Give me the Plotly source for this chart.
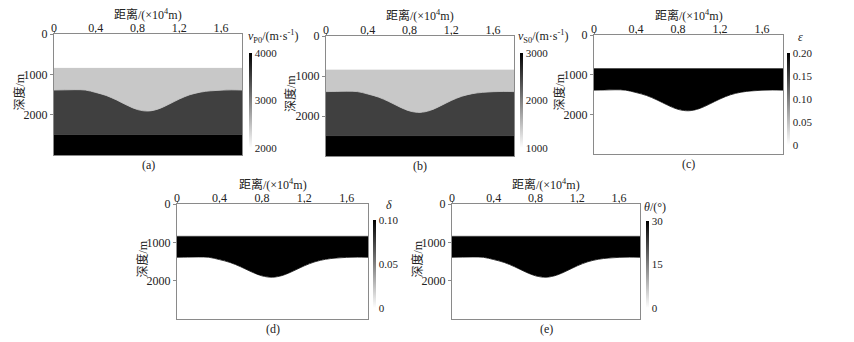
import plotly.graph_objects as go
from plotly.colors import sample_colorscale

# page body has an 8px default margin, so the figure is drawn 8px in from the window corner
OFF = 8
W, H = 854 - OFF, 342 - OFF

# ---------------- data ----------------
x_pos = [0.0, 0.1, 0.2, 0.3, 0.4, 0.5, 0.6, 0.7, 0.8, 0.9,
         1.0, 1.1, 1.2, 1.3, 1.4, 1.5, 1.6, 1.7, 1.8]          # distance (x10^4 m)
interface_depth = [1390, 1385, 1380, 1390, 1450, 1525, 1637, 1767, 1874, 1910,
                   1858, 1742, 1612, 1507, 1442, 1409, 1392, 1385, 1390]  # curved interface (m)
top_layer_depth = 830
base_layer_depth = 2490
max_depth = 3000

vp0 = [2000, 2430, 3500, 4000]
vs0 = [1000, 1430, 2500, 3000]
epsilon = [0, 0.20, 0, 0]
delta = [0, 0.10, 0, 0]
theta = [0, 30, 0, 0]

x_ticks = [0, 0.4, 0.8, 1.2, 1.6]
x_ticktext = ["0", "0.4", "0.8", "1.2", "1.6"]
y_ticks = [0, 1000, 2000]
y_ticktext = ["0", "1000", "2000"]

FONT = "Liberation Serif, Noto Sans CJK SC, serif"
TXT = "#222222"
AX = "#8a8a8a"
cs = [[0, "rgb(255,255,255)"], [1, "rgb(0,0,0)"]]

panels = [
    dict(vals=vp0, cmin=2000, cmax=4000, cbt=[2000, 3000, 4000], cbtt=["2000", "3000", "4000"],
         title="<i>v</i><sub>P0</sub>/(m·s<sup>-1</sup>)", tx=246, ty=37, cap="(a)",
         box=(54, 242, 34, 155), cb=(249, 53, 95)),
    dict(vals=vs0, cmin=1000, cmax=3000, cbt=[1000, 2000, 3000], cbtt=["1000", "2000", "3000"],
         title="<i>v</i><sub>S0</sub>/(m·s<sup>-1</sup>)", tx=516, ty=37, cap="(b)",
         box=(326, 514, 36, 156), cb=(520, 53, 95)),
    dict(vals=epsilon, cmin=0, cmax=0.2, cbt=[0, 0.05, 0.1, 0.15, 0.2],
         cbtt=["0", "0.05", "0.10", "0.15", "0.20"],
         title="<i>ε</i>", tx=796, ty=37, cap="(c)",
         box=(594, 783, 35, 154), cb=(787, 53, 92)),
    dict(vals=delta, cmin=0, cmax=0.1, cbt=[0, 0.05, 0.1], cbtt=["0", "0.05", "0.10"],
         title="<i>δ</i>", tx=384, ty=205, cap="(d)",
         box=(177, 368, 204, 319), cb=(373, 220, 88)),
    dict(vals=theta, cmin=0, cmax=30, cbt=[0, 15, 30], cbtt=["0", "15", "30"],
         title="<i>θ</i>/(°)", tx=642, ty=207, cap="(e)",
         box=(452, 640, 204, 319), cb=(646, 221, 87)),
]


def px(x):
    return (x - OFF) / W


def py(y):
    return 1 - (y - OFF) / H


fig = go.Figure()
n = len(x_pos)
annotations = []
layout_axes = {}

for i, p in enumerate(panels, start=1):
    xa = "x" if i == 1 else f"x{i}"
    ya = "y" if i == 1 else f"y{i}"
    colors = [sample_colorscale(cs, (v - p["cmin"]) / (p["cmax"] - p["cmin"]))[0] for v in p["vals"]]
    bounds = [[0] * n, [top_layer_depth] * n, interface_depth, [base_layer_depth] * n, [max_depth] * n]
    for k, yb in enumerate(bounds):
        tr = dict(x=x_pos, y=yb, mode="lines", xaxis=xa, yaxis=ya, showlegend=False,
                  hoverinfo="skip")
        if k == 0:
            tr["line"] = dict(width=0)
        else:
            tr["fill"] = "tonexty"
            tr["fillcolor"] = colors[k - 1]
            tr["line"] = dict(width=0.8, color=colors[k - 1],
                              shape="spline" if yb is interface_depth else "linear")
        fig.add_trace(go.Scatter(**tr))
    bx, by, blen = p["cb"]
    fig.add_trace(go.Scatter(
        x=[None], y=[None], mode="markers", xaxis=xa, yaxis=ya, showlegend=False,
        marker=dict(color=[p["cmin"], p["cmax"]], colorscale=cs, cmin=p["cmin"], cmax=p["cmax"],
                    showscale=True,
                    colorbar=dict(x=px(bx), xanchor="left", y=py(by), yanchor="top",
                                  len=blen, lenmode="pixels", thickness=3, thicknessmode="pixels",
                                  outlinewidth=0, xpad=0, ypad=0, ticks="",
                                  tickvals=p["cbt"], ticktext=p["cbtt"],
                                  tickfont=dict(family=FONT, size=11, color=TXT)))))
    x0, x1, y0, y1 = p["box"]
    key = "" if i == 1 else str(i)
    layout_axes["xaxis" + key] = dict(
        domain=[px(x0), px(x1)], range=[0, 1.8], side="top", anchor=ya,
        tickvals=x_ticks, ticktext=x_ticktext, ticks="outside", ticklen=2, tickcolor=AX,
        ticklabelstandoff=-6,
        showline=True, linecolor=AX, linewidth=1, mirror=True, showgrid=False, zeroline=False,
        tickfont=dict(family=FONT, size=12, color=TXT))
    layout_axes["yaxis" + key] = dict(
        domain=[py(y1), py(y0)], range=[max_depth, 0], anchor=xa,
        tickvals=y_ticks, ticktext=y_ticktext, ticks="outside", ticklen=3, tickcolor=AX,
        showline=True, linecolor=AX, linewidth=1, mirror=True, showgrid=False, zeroline=False,
        tickfont=dict(family=FONT, size=12, color=TXT))
    cx = (x0 + x1) / 2
    common = dict(xref="paper", yref="paper", showarrow=False, yanchor="middle")
    annotations.append(dict(text="距离/(×10<sup>4</sup>m)", x=px(cx), y=py(y0 - 20), xanchor="center",
                            font=dict(family=FONT, size=12, color=TXT), **common))
    annotations.append(dict(text="深度/m", x=px(x0 - 35), y=py((y0 + y1) / 2 - 2), xanchor="center",
                            textangle=-90, font=dict(family=FONT, size=12, color=TXT), **common))
    annotations.append(dict(text=p["cap"], x=px(cx), y=py(y1 + 10), xanchor="center",
                            font=dict(family=FONT, size=12, color=TXT), **common))
    annotations.append(dict(text=p["title"], x=px(p["tx"]), y=py(p["ty"]), xanchor="left",
                            font=dict(family=FONT, size=12, color=TXT), **common))

fig.update_layout(width=W, height=H, autosize=False,
                  margin=dict(l=0, r=0, t=0, b=0, autoexpand=False),
                  paper_bgcolor="white", plot_bgcolor="white", annotations=annotations,
                  font=dict(family=FONT, color=TXT), **layout_axes)
fig.write_html("out.html")
